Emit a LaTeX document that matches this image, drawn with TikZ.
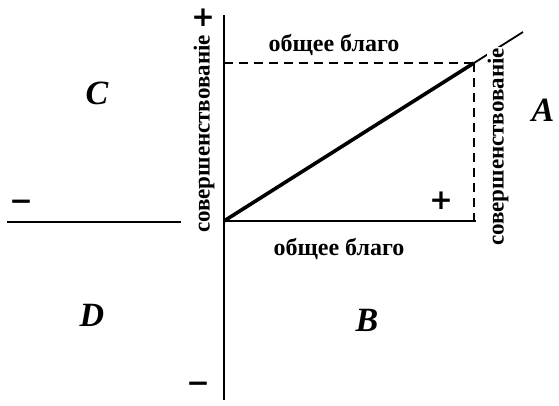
\documentclass[tikz,border=0pt]{standalone}
\usepackage{fontspec}
\setmainfont{Liberation Serif}
\newfontfamily\signfont{DejaVu Sans}
\usetikzlibrary{positioning}
\tikzset{
    axis line/.style={line width=2.8pt, black},
    value line/.style={line width=3.6pt, black},
    guide line/.style={line width=1.6pt, black, dash pattern=on 9pt off 6pt},
    axis text/.style={font=\fontsize{24}{26}\selectfont\bfseries, inner sep=1pt},
    side text/.style={font=\fontsize{23}{25}\selectfont\bfseries, inner sep=1pt, rotate=90},
    quad label/.style={font=\fontsize{34}{36}\selectfont\bfseries\itshape, inner sep=0pt},
    sign label/.style={font=\signfont\fontsize{28}{30}\selectfont\bfseries, inner sep=0pt},
}
\begin{document}
\begin{tikzpicture}[x=1pt, y=-1pt]
    \useasboundingbox (0,0) rectangle (559,405);
    % axes
    \coordinate (o) at (224,221);
    \coordinate (top) at (224,15);
    \coordinate (bot) at (224,400);
    \coordinate (lft) at (7,222);
    \coordinate (lftend) at (181,222);
    \coordinate (rgt) at (476,221);
    \coordinate (peak) at (474,63);
    \coordinate (far) at (523,32);
    \coordinate (yproj) at (224,63);
    \coordinate (xproj) at (474,221);
    \draw[axis line] (top) -- (bot);
    \draw[axis line] (lft) -- (lftend);
    \draw[axis line] (o) -- (rgt);
    % dashed projections
    \draw[guide line] (yproj) -- (peak);
    \draw[guide line] (peak) -- (xproj);
    % line of growth
    \draw[line width=1.8pt] (peak) -- (far);
    \draw[value line] (o) -- (peak);
    % texts on the axes
    \node[axis text] (gtop) at (334,45) {общее благо};
    \node[axis text] (gbot) at (339,249) {общее благо};
    \node[side text] (sleft) at (204,134) {совершенствованіе};
    \node[side text, fill=white] (sright) at (498,147) {совершенствованіе};
    % signs
    \node[sign label] (pt) at (203,18) {+};
    \node[sign label] (pr) at (441,201) {+};
    \node[sign label] (ml) at (21,205) {−};
    \node[sign label] (mb) at (198,387) {−};
    % quadrants
    \node[quad label] (qa) at (543,110) {A};
    \node[quad label] (qb) at (367,320) {B};
    \node[quad label] (qc) at (97,93) {C};
    \node[quad label] (qd) at (92,315) {D};
\end{tikzpicture}
\end{document}
